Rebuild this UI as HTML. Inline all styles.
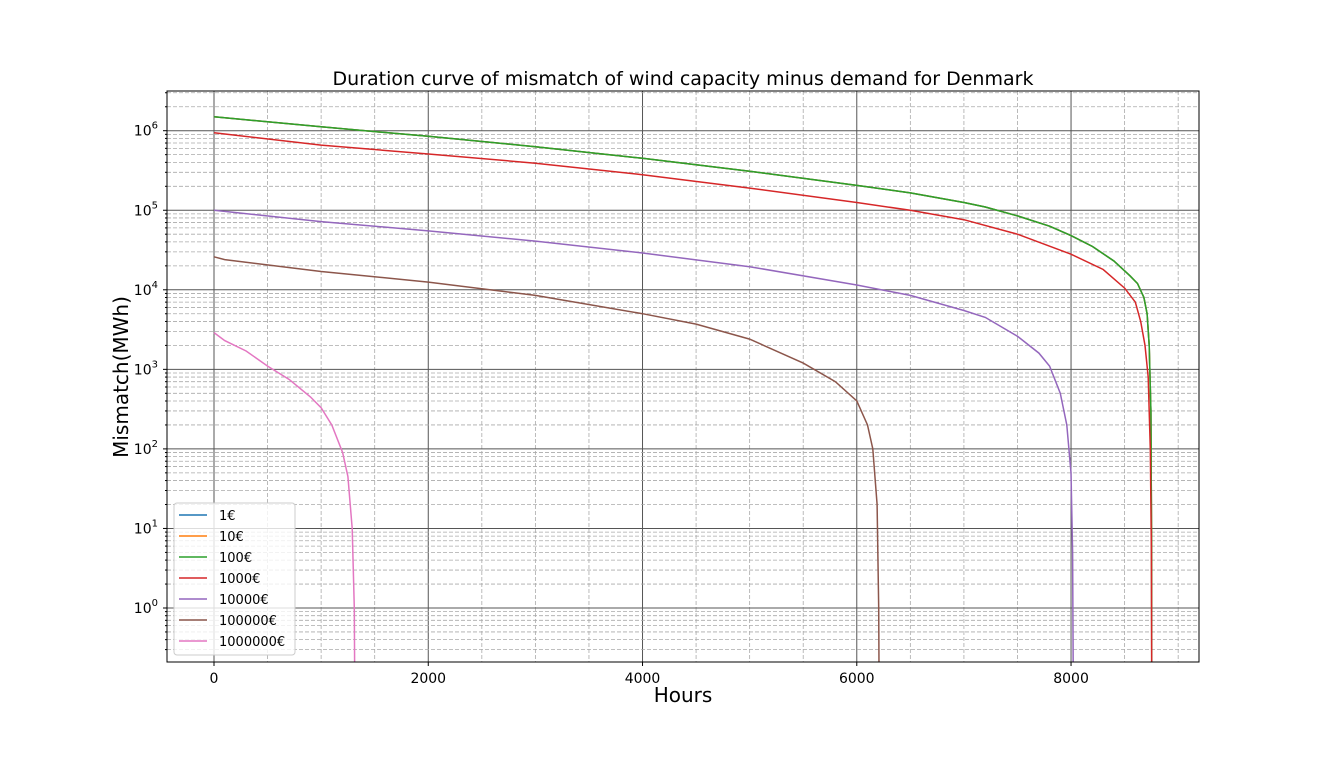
<!DOCTYPE html>
<html><head><meta charset="utf-8"><style>
body{margin:0;background:#fff;font-family:"Liberation Sans","DejaVu Sans",sans-serif;}
svg text{font-family:"DejaVu Sans","Liberation Sans",sans-serif;}
</style></head><body>
<svg id="chart" width="1332" height="756" xmlns="http://www.w3.org/2000/svg">
<defs><clipPath id="clip"><rect x="167" y="91" width="1032" height="571"/></clipPath></defs>
<g id="grid"></g>
<g id="series" clip-path="url(#clip)"></g>
<rect x="167" y="91" width="1032" height="571" fill="none" stroke="#000" stroke-width="1"/>
<g id="ticks"></g>
<text x="683" y="85" text-anchor="middle" font-size="19">Duration curve of mismatch of wind capacity minus demand for Denmark</text>
<text x="683" y="702" text-anchor="middle" font-size="20">Hours</text>
<text transform="translate(128,377) rotate(-90)" text-anchor="middle" font-size="20">Mismatch(MWh)</text>
<g id="legend"></g>
</svg>
<script>
const xTicks=[0,2000,4000,6000,8000];
const yTicks=[0,1,2,3,4,5,6];
const labels=["1€","10€","100€","1000€","10000€","100000€","1000000€"];
const colors=["#1f77b4","#ff7f0e","#2ca02c","#d62728","#9467bd","#8c564b","#e377c2"];
const hGreen=[0,1000,2000,3000,4000,5000,6000,6500,7000,7200,7500,7800,8000,8200,8400,8550,8620,8680,8710,8730,8745,8752,8755];
const vGreen=[1.5e6,1.12e6,8.5e5,6.3e5,4.5e5,3.1e5,2.05e5,1.65e5,1.25e5,1.1e5,8.5e4,6.3e4,4.8e4,3.5e4,2.3e4,1.5e4,1.2e4,8e3,5e3,2e3,300,5,0.01];
const hRed=[0,1000,2000,3000,4000,5000,6000,6500,7000,7500,8000,8300,8500,8600,8650,8690,8720,8740,8750,8755];
const vRed=[9.4e5,6.6e5,5.1e5,3.9e5,2.8e5,1.9e5,1.25e5,1.0e5,7.6e4,5e4,2.8e4,1.8e4,1.05e4,7e3,4e3,2e3,800,100,5,0.01];
const hPurple=[0,1000,2000,3000,4000,5000,6000,6500,7000,7200,7500,7700,7800,7900,7960,8000,8015,8025];
const vPurple=[1.0e5,7.2e4,5.5e4,4.1e4,2.9e4,1.95e4,1.15e4,8.5e3,5.5e3,4.5e3,2.6e3,1.6e3,1.1e3,500,200,50,5,0.01];
const hBrown=[0,100,1000,2000,3000,4000,4500,5000,5500,5800,6000,6100,6150,6190,6205,6212];
const vBrown=[2.6e4,2.4e4,1.7e4,1.25e4,8.5e3,5e3,3.7e3,2.4e3,1.2e3,700,400,200,100,20,1,0.01];
const hPink=[0,100,300,500,700,900,1000,1100,1200,1250,1290,1310,1318];
const vPink=[2.9e3,2.3e3,1.7e3,1.1e3,750,450,330,200,90,45,10,1,0.01];
const seriesH=[hGreen,hGreen,hGreen,hRed,hPurple,hBrown,hPink];
const seriesV=[vGreen,vGreen,vGreen,vRed,vPurple,vBrown,vPink];
const NS="http://www.w3.org/2000/svg";
const X=h=>214+h*0.10713;
const Y=v=>608-Math.log10(v)*79.55;
function mk(tag,attrs,parent){const e=document.createElementNS(NS,tag);for(const k in attrs)e.setAttribute(k,attrs[k]);parent.appendChild(e);return e;}
const grid=document.getElementById('grid'),ticks=document.getElementById('ticks');
for(let h=-500;h<=9000;h+=500){const x=X(h);if(x<167||x>1199)continue;const major=h%2000===0;
 const l=mk('line',{x1:x,x2:x,y1:91,y2:662,stroke:major?'#555':'#aaa','stroke-width':major?1:0.8,'stroke-dasharray':major?'':'4,2'},grid);
 
 }
for(let d=-1;d<=6;d++){for(let m=1;m<10;m++){const y=Y(m*Math.pow(10,d));if(y<91||y>662)continue;const major=m===1;
 const l=mk('line',{x1:167,x2:1199,y1:y,y2:y,stroke:major?'#555':'#aaa','stroke-width':major?1:0.8,'stroke-dasharray':major?'':'4,2'},grid);
 
 
 const t=mk('line',{x1:167,x2:major?163:165,y1:y,y2:y,stroke:'#000'},ticks);
 
 }}
xTicks.forEach(h=>{const x=X(h);
 const t=mk('line',{x1:x,x2:x,y1:662,y2:666,stroke:'#000'},ticks);
 
 
 const tx=mk('text',{x:x,y:683,'text-anchor':'middle','font-size':14},ticks);tx.textContent=h;
 
 });
yTicks.forEach(p=>{const y=Y(Math.pow(10,p));
 const tx=mk('text',{x:158,y:y+5,'text-anchor':'end','font-size':14},ticks);
 tx.innerHTML='10<tspan dy="-7" font-size="10">'+p+'</tspan>';
 
 });
const sg=document.getElementById('series');
seriesH.forEach((hs,i)=>{const pts=hs.map((h,j)=>X(h).toFixed(1)+','+Y(seriesV[i][j]).toFixed(1)).join(' ');
 const p=mk('polyline',{points:pts,fill:'none',stroke:colors[i],'stroke-width':1.5},sg);
 
 });
const lg=document.getElementById('legend');
const box=mk('rect',{x:174,y:503,width:121,height:152,rx:3,fill:'#fff','fill-opacity':0.8,stroke:'#ccc'},lg);


labels.forEach((lb,i)=>{const y=515+i*21;
 const l=mk('line',{x1:179,x2:207,y1:y,y2:y,stroke:colors[i],'stroke-width':1.5},lg);
 
 
 const t=mk('text',{x:219,y:y+5,'font-size':13},lg);t.textContent=lb;
 
 });
</script>
</body></html>
